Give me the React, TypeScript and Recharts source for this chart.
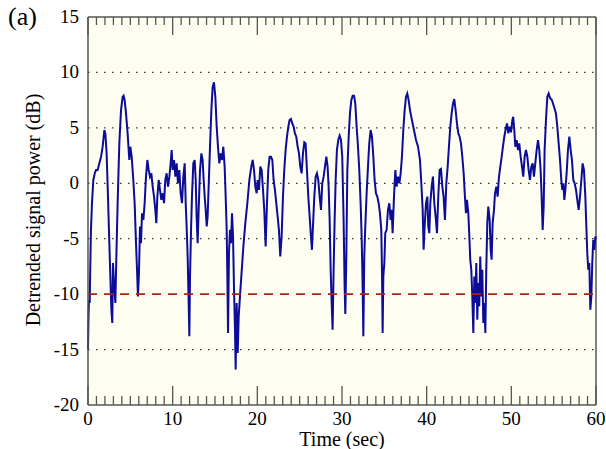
import { CartesianGrid, Line, LineChart, ReferenceLine, XAxis, YAxis } from 'recharts';

// time stamps (sec) and detrended power (dB)
const times = [
  0, 0.06, 0.12, 0.2, 0.27, 0.35, 0.47, 0.63, 0.8, 0.95, 1.14, 1.34, 1.54, 1.73, 1.93, 2.05, 2.2, 2.36, 2.52, 2.64,
  2.76, 2.87, 2.95, 3.07, 3.23, 3.35, 3.5, 3.7, 3.9, 4.09, 4.2, 4.33, 4.49, 4.68, 4.88, 5.0, 5.16, 5.35, 5.51, 5.67,
  5.79, 5.9, 6.02, 6.14, 6.26, 6.38, 6.54, 6.69, 6.85, 7.01, 7.17, 7.32, 7.48, 7.64, 7.8, 7.95, 8.07, 8.19, 8.35, 8.5,
  8.66, 8.82, 8.98, 9.13, 9.29, 9.45, 9.61, 9.76, 9.88,
  10.0, 10.16, 10.32, 10.47, 10.63, 10.79, 10.94, 11.1, 11.26, 11.42, 11.54, 11.65, 11.77, 11.89, 11.97, 12.05, 12.17,
  12.28, 12.44, 12.6, 12.72, 12.83, 12.95, 13.07, 13.23, 13.39, 13.54, 13.66, 13.78, 13.9, 14.02, 14.13, 14.25, 14.41,
  14.57, 14.72, 14.88, 15.04, 15.2, 15.35, 15.51, 15.67, 15.83, 15.98, 16.14, 16.26, 16.38, 16.46, 16.54, 16.65, 16.77,
  16.89, 17.01, 17.13, 17.24, 17.36, 17.44, 17.56, 17.68, 17.8, 17.95, 18.11, 18.35, 18.58, 18.82, 19.06, 19.29, 19.45,
  19.61, 19.76, 19.92,
  20.04, 20.2, 20.35, 20.51, 20.67, 20.82, 20.98, 21.14, 21.29, 21.45, 21.61, 21.77, 21.92, 22.08, 22.24, 22.4, 22.55,
  22.71, 22.87, 23.03, 23.18, 23.34, 23.5, 23.66, 23.81, 23.97, 24.13, 24.29, 24.44, 24.6, 24.76, 24.92, 25.07, 25.23,
  25.39, 25.55, 25.7, 25.86, 26.02, 26.18, 26.33, 26.45, 26.57, 26.73, 26.89, 27.04, 27.2, 27.36, 27.52, 27.67, 27.83,
  27.99, 28.15, 28.3, 28.42, 28.54, 28.66, 28.78, 28.89, 29.01, 29.13, 29.25, 29.4, 29.56, 29.72, 29.88,
  30.03, 30.19, 30.31, 30.39, 30.51, 30.63, 30.79, 30.94, 31.1, 31.26, 31.42, 31.57, 31.73, 31.89, 32.04, 32.2, 32.32,
  32.44, 32.52, 32.63, 32.75, 32.91, 33.07, 33.22, 33.38, 33.54, 33.7, 33.85, 34.01, 34.17, 34.33, 34.48, 34.64, 34.72,
  34.8, 34.88, 35.0, 35.11, 35.27, 35.43, 35.59, 35.74, 35.86, 35.98, 36.14, 36.3, 36.45, 36.61, 36.77, 36.93, 37.08,
  37.24, 37.4, 37.56, 37.71, 37.87, 38.03, 38.26, 38.5, 38.74, 38.98, 39.21, 39.37, 39.53, 39.64, 39.76, 39.92,
  40.08, 40.19, 40.31, 40.43, 40.59, 40.74, 40.9, 41.06, 41.22, 41.37, 41.53, 41.69, 41.85, 42.0, 42.16, 42.32, 42.48,
  42.63, 42.79, 42.95, 43.11, 43.26, 43.42, 43.58, 43.74, 43.89, 44.05, 44.21, 44.37, 44.52, 44.64, 44.76, 44.92,
  45.04, 45.15, 45.27, 45.39, 45.51, 45.63, 45.75, 45.86, 45.98, 46.1, 46.21, 46.33, 46.45, 46.57, 46.69, 46.81, 46.93,
  47.04, 47.16, 47.28, 47.44, 47.56, 47.67, 47.79, 47.95, 48.07, 48.23, 48.38, 48.54, 48.7, 48.86, 49.01, 49.17, 49.33,
  49.49, 49.64, 49.8, 49.96,
  50.12, 50.22, 50.35, 50.47, 50.63, 50.79, 50.94, 51.1, 51.26, 51.41, 51.57, 51.73, 51.89, 52.04, 52.2, 52.36, 52.52,
  52.67, 52.83, 52.99, 53.15, 53.3, 53.46, 53.58, 53.7, 53.82, 53.93, 54.09, 54.25, 54.41, 54.57, 54.8, 55.04, 55.27,
  55.43, 55.59, 55.75, 55.9, 56.02, 56.14, 56.26, 56.38, 56.53, 56.69, 56.85, 57.01, 57.16, 57.32, 57.48, 57.64, 57.79,
  57.95, 58.11, 58.27, 58.42, 58.58, 58.74, 58.86, 58.97, 59.09, 59.21, 59.33, 59.45, 59.56, 59.68, 59.8, 59.92, 60,
];

const power = [
  -15, -12, -10.5, -10.8, -7.5, -4.2, -1.8, 0.3, 0.9, 1.2, 1.2, 1.8, 2.4, 3.3, 4.8, 4.5, 2.7, -1.2, -5.4, -8.4,
  -11.4, -12.6, -7.2, -9, -10.8, -6.6, -1.8, 3.6, 6.6, 7.8, 7.9, 7.5, 6.3, 4.5, 2.1, 3.3, 2.4, 0.3, -1.8, -5.4,
  -7.8, -10.2, -8.1, -3.9, -5.4, -2.7, -3.3, -1.8, 0.6, 2.1, 1.2, 0.6, 0.9, -0.3, -1.2, -2.4, -3.6, -1.2, 0.3, -0.6,
  -1.5, -0.9, -1.8, 0.3, 0.9, -0.3, 0.6, 1.8, 3.0,
  1.2, 2.1, 0.6, 1.8, 0, 1.2, -0.9, -1.8, 0.6, 1.8, -1.8, -3.9, -6.6, -10.8, -13.8, -8.4, -4.2,
  -1.2, 1.8, 2.1, 0.3, -3, -5.4, -2.4, 1.2, 2.7, 2.1, 0.3, -1.2, -2.4, -3.9, -3, -0.3, 3.3,
  6.6, 8.7, 9.1, 7.8, 5.1, 3.3, 1.8, 2.7, 2.1, 3.3, 1.5, -1.2, -4.2, -8.4, -13.5, -6.3, -4.2,
  -5.4, -2.7, -4.8, -9.3, -13.2, -16.8, -10.8, -15.3, -12, -10.2, -8.4, -5.7, -3.6, -1.8, 0.3, 1.5, 2.1,
  1.2, -0.3, -0.9,
  0.3, -0.6, 1.5, 1.2, -0.6, -2.4, -5.7, -1.8, 1.2, 2.4, 2.4, 2.1, 0.3, -0.6, -1.8, -3, -4.2,
  -6.6, -4.8, -1.2, 1.2, 3, 4.2, 5.1, 5.7, 5.8, 5.4, 5.1, 4.5, 4.2, 3.3, 2.7, 1.5, 0.9,
  2.7, 3.7, 3.6, 1.2, -1.2, -3, -4.8, -6, -3.9, -1.2, 0.6, 0.9, 0.3, -1.2, -2.4, 0, 0.6,
  1.5, 2.4, 1.5, -0.3, -3.3, -7.8, -10.8, -13.2, -7.8, -3.3, 0.3, 3, 3.9, 4.3, 3.9,
  2.4, -3.3, -9.3, -11.8, -6.6, 1.2, 4.2, 6.3, 7.5, 7.9, 7.9, 7.2, 5.1, 3.3, 1.2, -1.8, -4.8,
  -9.3, -13.8, -6.6, -3.9, -0.9, 1.5, 3.6, 4.8, 4.2, 2.4, 0.3, -0.9, -1.2, -1.8, -2.7, -4.2, -7.8,
  -13.5, -8.4, -7.2, -4.5, -4.2, -2.4, -1.8, -3.3, -2.4, -4.5, -1.2, 1.2, -0.3, 0.6, 0, 0.9, 2.4,
  4.8, 6.6, 7.8, 8.1, 7.5, 6.6, 5.7, 4.8, 3.9, 3.3, 2.1, 0, -2.4, -6, -3.9, -1.8,
  -1.2, -3.9, -4.5, -1.8, -0.3, 0.6, -1.8, -3, -4.5, -1.2, 1.2, 1.3, -0.3, -1.2, -3.3, 0, 1.5,
  3.3, 5.1, 6.3, 7.2, 7.6, 6.6, 5.4, 4.5, 4.2, 3.6, 2.4, 0.9, -1.2, -2.7, -1.5, -2.7,
  -4.8, -6.9, -7.8, -10.2, -13.5, -8.4, -10.8, -7.2, -12.3, -9, -11.1, -6.6, -10.2, -7.8, -12.6, -10.8, -13.5,
  -7.8, -3.6, -2.1, -3.3, -6, -6.9, -3.6, -2.4, -0.9, -0.3, -1.2, 0.6, 1.5, 2.4, 3.3, 4.2, 4.9,
  5.4, 4.5, 5.1, 4.6,
  5.7, 6.0, 4.8, 3.3, 3.9, 3, 3.6, 2.4, 1.5, 0.6, 2.4, 3, 2.4, 1.2, 0.3, 1.5, 1.8,
  0.6, 1.8, 3, 3.9, 3, 1.2, -1.2, -4.2, -2.1, 3, 5.7, 7.8, 8.1, 7.7, 7.5, 6.9, 6.3,
  5.1, 3.6, 2.1, 0.3, -0.6, 0, -1.5, -0.6, 0.9, 3, 4.2, 3, 2.1, 0.3, 0, -0.6, -1.5,
  -2.4, -1.2, 0.3, 1.8, 1.2, -1.2, -3.9, -6.3, -7.8, -7.2, -11.4, -10.2, -7.2, -5.1, -6, -4.8, -5,
];

const timeTicks = [0, 10, 20, 30, 40, 50, 60];
const powerTicks = [-20, -15, -10, -5, 0, 5, 10, 15];
const gridLevels = [10, 5, 0, -5, -15];
const threshold = -10;

// one small inward tick per second along top and bottom frame
const secondTicks = Array.from({ length: 61 }, (_, i) => i);

const data = times.map((t, i) => ({ t, p: power[i] }));

const FONT = '"Liberation Serif", "Times New Roman", serif';
const FRAME = '#555';

function BottomTick({ x, y, payload }: any) {
  const major = timeTicks.includes(payload.value);
  return (
    <g>
      <line x1={x} x2={x} y1={y} y2={y - (major ? 19 : 9)} stroke={FRAME} strokeWidth={1.3} />
      {major && (
        <text x={x} y={y + 20} textAnchor="middle" fill="#000" style={{ fontFamily: FONT, fontSize: 19 }}>
          {payload.value}
        </text>
      )}
    </g>
  );
}

function TopTick({ x, y, payload }: any) {
  const major = timeTicks.includes(payload.value);
  return <line x1={x} x2={x} y1={y} y2={y + (major ? 18 : 8)} stroke={FRAME} strokeWidth={1.3} />;
}

function PowerTick({ x, y, payload }: any) {
  return (
    <text x={x} y={y} dy={6} textAnchor="end" fill="#000" style={{ fontFamily: FONT, fontSize: 19 }}>
      {payload.value}
    </text>
  );
}

export default function App() {
  return (
    <div style={{ position: 'absolute', left: 0, top: 0, width: 606, height: 449, background: '#fff', fontFamily: FONT }}>
      <LineChart width={606} height={449} data={data} margin={{ top: 0, right: 10, bottom: 0, left: 0 }}>
        <CartesianGrid fill="#fefef0" horizontal={false} vertical={false} />
        <XAxis
          dataKey="t"
          type="number"
          domain={[0, 60]}
          ticks={secondTicks}
          interval={0}
          height={44}
          tickSize={0}
          tickMargin={0}
          tickLine={false}
          axisLine={{ stroke: FRAME, strokeWidth: 1.5 }}
          tick={<BottomTick />}
        />
        <XAxis
          xAxisId="top"
          orientation="top"
          dataKey="t"
          type="number"
          domain={[0, 60]}
          ticks={secondTicks}
          interval={0}
          height={17}
          tickSize={0}
          tickMargin={0}
          tickLine={false}
          axisLine={{ stroke: FRAME, strokeWidth: 1.5 }}
          tick={<TopTick />}
        />
        <YAxis
          type="number"
          domain={[-20, 15]}
          ticks={powerTicks}
          interval={0}
          width={88}
          tickSize={0}
          tickMargin={9}
          tickLine={false}
          axisLine={{ stroke: FRAME, strokeWidth: 1.5 }}
          tick={<PowerTick />}
        />
        {gridLevels.map(v => (
          <ReferenceLine key={v} y={v} stroke="#333" strokeWidth={1.3} strokeDasharray="1.5 6.5" />
        ))}
        <ReferenceLine x={60} stroke={FRAME} strokeWidth={1.5} />
        <Line
          type="linear"
          dataKey="p"
          stroke="#0c0c99"
          strokeWidth={2}
          dot={false}
          isAnimationActive={false}
        />
        <ReferenceLine y={threshold} stroke="#a82418" strokeWidth={1.8} strokeDasharray="9 7" />
      </LineChart>
      <div style={{ position: 'absolute', left: 8, top: 2, fontSize: 26, lineHeight: '30px', color: '#000' }}>(a)</div>
      <div
        style={{
          position: 'absolute',
          left: 33,
          top: 210,
          transform: 'translate(-50%, -50%) rotate(-90deg)',
          whiteSpace: 'nowrap',
          fontSize: 20,
          lineHeight: '22px',
          color: '#000',
        }}
      >
        Detrended signal power (dB)
      </div>
      <div
        style={{
          position: 'absolute',
          left: 342,
          top: 439,
          transform: 'translate(-50%, -50%)',
          whiteSpace: 'nowrap',
          fontSize: 20,
          lineHeight: '18px',
          color: '#000',
        }}
      >
        Time (sec)
      </div>
    </div>
  );
}
